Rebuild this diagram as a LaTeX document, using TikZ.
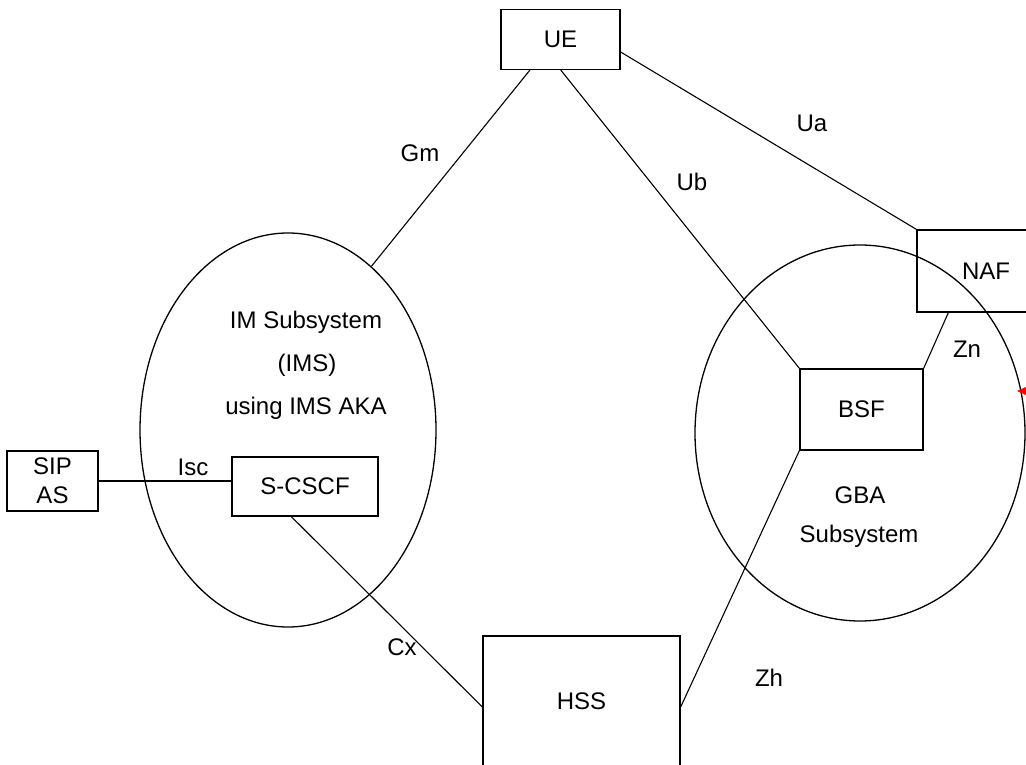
\documentclass[tikz,border=0pt]{standalone}
\usepackage{fontspec}
\setmainfont{Liberation Sans}
\usetikzlibrary{shapes.geometric}
\begin{document}
\begin{tikzpicture}[x=1pt,y=-1pt,
  every node/.style={font=\fontsize{24}{28}\selectfont},
  box/.style={draw,line width=1.3pt,inner sep=0pt,align=center},
  cloud/.style={draw,ellipse,line width=1.3pt,inner sep=0pt},
  lbl/.style={inner sep=0pt,align=center},
  conn/.style={line width=1.1pt}]
\useasboundingbox (0,0) rectangle (1026,765);
% boxes
\node[box,minimum width=119pt,minimum height=60pt] (UE) at (560.5,39.5) {UE};
\node[box,minimum width=138pt,minimum height=82pt] (NAF) at (986,271) {NAF};
\node[box,minimum width=123pt,minimum height=81pt] (BSF) at (861.5,409.5) {BSF};
\node[box,minimum width=146pt,minimum height=59pt] (SCSCF) at (305,486.5) {S-CSCF};
\node[box,minimum width=91pt,minimum height=60pt,text width=91pt,font=\fontsize{24}{29}\selectfont] (SIP) at (52.5,481) {SIP\\AS};
\node[box,minimum width=197pt,minimum height=130pt] (HSS) at (581.5,701) {HSS};
% ellipses
\node[cloud,minimum width=296pt,minimum height=394pt] (IMS) at (288,430) {};
\node[cloud,minimum width=330pt,minimum height=376pt] (GBA) at (860,433) {};
% ellipse texts
\node[lbl] (imsa) at (306,322) {IM Subsystem};
\node[lbl] (imsb) at (307,365) {(IMS)};
\node[lbl] (imsc) at (306,408) {using IMS AKA};
\node[lbl] (gbaa) at (860,495) {GBA};
\node[lbl] (gbab) at (859,536) {Subsystem};
% connectors
\draw[conn] ([xshift=29.5pt]UE.south west) -- (IMS.63);
\draw[conn] ([xshift=60.5pt]UE.south west) -- (BSF.north west);
\draw[conn] ([yshift=-12.5pt]UE.east) -- (NAF.north west);
\draw[conn] ([xshift=32pt]NAF.south west) -- (BSF.north east);
\draw[conn] ([yshift=-6pt]HSS.east) -- (BSF.south west);
\draw[conn] ([xshift=60pt]SCSCF.south west) -- ([yshift=-6pt]HSS.west);
\draw[conn] (SIP.east) -- (SIP.east -| SCSCF.west);
% labels
\node[lbl] (gm) at (420,153) {Gm};
\node[lbl] (ua) at (812,123) {Ua};
\node[lbl] (ub) at (692,182) {Ub};
\node[lbl] (isc) at (193,467) {Isc};
\node[lbl] (zn) at (967,349) {Zn};
\node[lbl] (cx) at (402,647) {Cx};
\node[lbl] (zh) at (769,678) {Zh};
% red arrowhead at the right edge
\fill[red] (1017,391) -- (1027,386.5) -- (1027,395.5) -- cycle;
\end{tikzpicture}
\end{document}
